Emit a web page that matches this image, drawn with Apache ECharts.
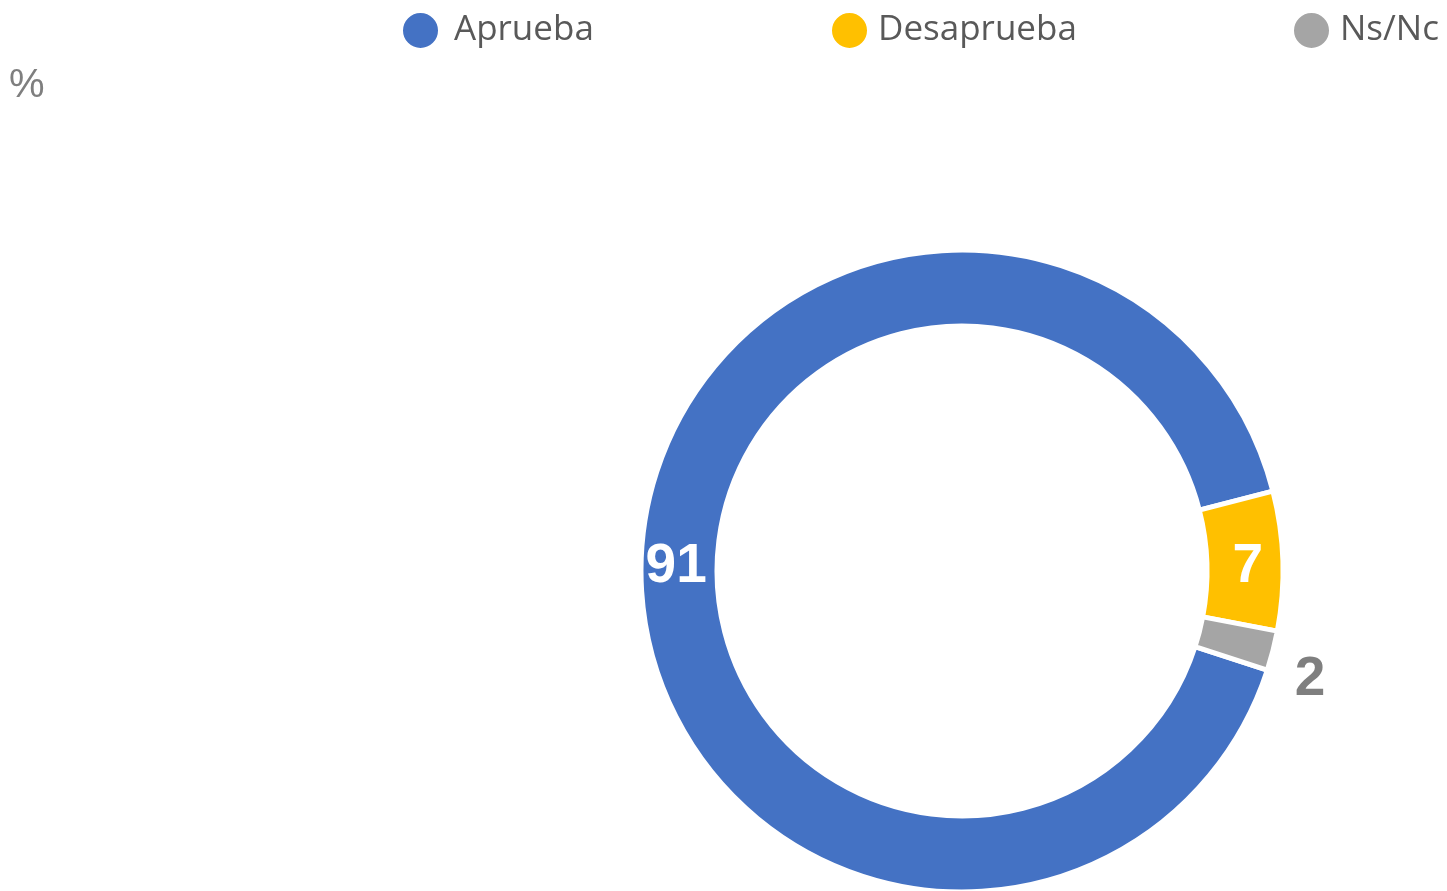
<!DOCTYPE html>
<html>
<head>
<meta charset="utf-8">
<script src="https://cdn.jsdelivr.net/npm/echarts@6/dist/echarts.min.js"></script>
<style>
html,body{margin:0;padding:0;background:#fff;}
#chart{width:1447px;height:891px;}
</style>
</head>
<body>
<div id="chart"></div>
<script>
const categories = ["Aprueba", "Desaprueba", "Ns/Nc"];
const values = [91, 7, 2];
const colors = ["#4472C4", "#FFC000", "#A5A5A5"];
const unitLabel = "%";

const chart = echarts.init(document.getElementById('chart'));
const numFont = '"Liberation Sans Narrow", "Arial Narrow", "Liberation Sans", sans-serif';
const legendLefts = [401, 830, 1292];
const legendGaps = [15, 10, 10];

const data = categories.map((c, i) => {
  const d = { name: c, value: values[i], itemStyle: { color: colors[i] } };
  if (i === 2) {
    d.label = { position: 'inside', color: '#7F7F7F', offset: [71, 38] };
  }
  return d;
});

const option = {
  animation: false,
  title: {
    text: unitLabel,
    left: 4,
    top: 61,
    textStyle: { color: '#7F7F7F', fontSize: 40, fontWeight: 'normal', fontFamily: numFont }
  },
  legend: categories.map((c, i) => ({
    data: [c],
    left: legendLefts[i],
    top: 11,
    icon: 'circle',
    itemWidth: 37,
    itemHeight: 37,
    itemGap: 0,
    padding: 0,
    textStyle: { color: '#595959', fontSize: 35, fontFamily: '"Open Sans", "Noto Sans", sans-serif', padding: [3, 0, 0, legendGaps[i] - 5] }
  })),
  series: [{
    type: 'pie',
    center: [962, 571],
    radius: [245, 321],
    startAngle: 342,
    clockwise: true,
    avoidLabelOverlap: false,
    itemStyle: { borderColor: '#fff', borderWidth: 5 },
    label: {
      show: true,
      position: 'inside',
      formatter: '{c}',
      color: '#fff',
      fontSize: 55,
      fontWeight: 'bold',
      fontFamily: numFont,
      offset: [0, 5]
    },
    labelLine: { show: false },
    emphasis: { disabled: true },
    data: data
  }]
};
chart.setOption(option);
</script>
</body>
</html>
